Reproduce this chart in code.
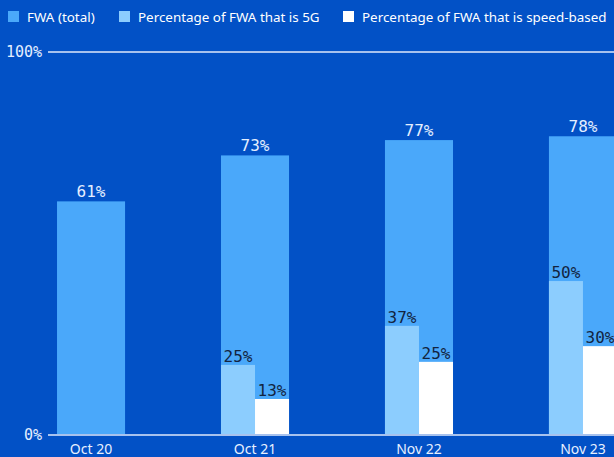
<!DOCTYPE html>
<html>
<head>
<meta charset="utf-8">
<script src="https://cdn.jsdelivr.net/npm/d3@7"></script>
<style>
  html, body { margin: 0; padding: 0; background: #0251c6; overflow: hidden; }
  svg { display: block; }
</style>
</head>
<body>
<div id="chart"></div>
<script>
// data
const categories = ["Oct 20", "Oct 21", "Nov 22", "Nov 23"];
const fwaTotal = [61, 73, 77, 78];
// share labels as printed
const fiveGLabels = [null, 25, 37, 50];
const speedLabels = [null, 13, 25, 30];
const fiveGHeights = [null, 18.3, 28.5, 40.2];
const speedHeights = [null, 9.4, 19.1, 23.2];
const yTicks = [0, 100];
const legendItems = [
  { label: "FWA (total)", color: "#4aa8fa", x: 8 },
  { label: "Percentage of FWA that is 5G", color: "#8ccdfe", x: 119 },
  { label: "Percentage of FWA that is speed-based", color: "#ffffff", x: 343 },
];

const width = 614;
const height = 457;
const margin = { top: 52, bottom: 22, left: 48 };

const monoFont = "'DejaVu Sans Mono', monospace";
const sansFont = "'Noto Sans', sans-serif";

const rows = categories.map((c, i) => ({
  cat: c,
  total: fwaTotal[i],
  fiveG: fiveGHeights[i],
  fiveGLabel: fiveGLabels[i],
  speed: speedHeights[i],
  speedLabel: speedLabels[i],
}));

const svg = d3
  .select("#chart")
  .append("svg")
  .attr("width", width)
  .attr("height", height);

const x = d3
  .scaleBand()
  .domain(categories)
  .range([margin.left, 626])
  .paddingInner(0.585)
  .paddingOuter(0.055);

const y = d3
  .scaleLinear()
  .domain([0, 100])
  .range([height - margin.bottom, margin.top]);

const sub = d3
  .scaleBand()
  .domain(["fiveG", "speed"])
  .range([0, x.bandwidth()]);

// legend
const legend = svg.append("g").attr("class", "legend");
legend
  .selectAll("rect")
  .data(legendItems)
  .join("rect")
  .attr("x", (d) => d.x)
  .attr("y", 11)
  .attr("width", 11)
  .attr("height", 11)
  .attr("fill", (d) => d.color);
legend
  .selectAll("text")
  .data(legendItems)
  .join("text")
  .attr("x", (d) => d.x + 19)
  .attr("y", 22)
  .attr("fill", "#ffffff")
  .style("font-family", sansFont)
  .style("font-size", "13.4px")
  .text((d) => d.label);

// total bars
svg
  .append("g")
  .selectAll("rect")
  .data(rows)
  .join("rect")
  .attr("x", (d) => x(d.cat))
  .attr("y", (d) => y(d.total))
  .attr("width", x.bandwidth())
  .attr("height", (d) => y(0) - y(d.total))
  .attr("fill", "#4aa8fa");

svg
  .append("g")
  .selectAll("text")
  .data(rows)
  .join("text")
  .attr("x", (d) => x(d.cat) + x.bandwidth() / 2)
  .attr("y", (d) => y(d.total) - 4)
  .attr("text-anchor", "middle")
  .attr("fill", "#e4eeff")
  .style("font-family", monoFont)
  .style("font-size", "16px")
  .text((d) => d.total + "%");

// 5G and speed-based bars
const subRows = [];
rows.forEach((d) => {
  if (d.fiveG != null) {
    subRows.push({ cat: d.cat, key: "fiveG", h: d.fiveG, label: d.fiveGLabel, color: "#8ccdfe" });
    subRows.push({ cat: d.cat, key: "speed", h: d.speed, label: d.speedLabel, color: "#ffffff" });
  }
});

svg
  .append("g")
  .selectAll("rect")
  .data(subRows)
  .join("rect")
  .attr("x", (d) => x(d.cat) + sub(d.key))
  .attr("y", (d) => y(d.h))
  .attr("width", sub.bandwidth())
  .attr("height", (d) => y(0) - y(d.h))
  .attr("fill", (d) => d.color);

svg
  .append("g")
  .selectAll("text")
  .data(subRows)
  .join("text")
  .attr("x", (d) => x(d.cat) + sub(d.key) + sub.bandwidth() / 2)
  .attr("y", (d) => y(d.h) - 3)
  .attr("text-anchor", "middle")
  .attr("fill", "#12243f")
  .style("font-family", monoFont)
  .style("font-size", "16px")
  .text((d) => d.label + "%");

// y gridlines + labels
const grid = svg.append("g").attr("class", "grid");
grid
  .selectAll("line")
  .data(yTicks)
  .join("line")
  .attr("x1", margin.left)
  .attr("x2", width)
  .attr("y1", (d) => y(d))
  .attr("y2", (d) => y(d))
  .attr("stroke", "#a7c2ee")
  .attr("stroke-width", 2);
grid
  .selectAll("text")
  .data(yTicks)
  .join("text")
  .attr("x", 42)
  .attr("y", (d) => y(d) + 5)
  .attr("text-anchor", "end")
  .attr("fill", "#e4eeff")
  .style("font-family", monoFont)
  .style("font-size", "15px")
  .text((d) => d + "%");

// x axis labels
svg
  .append("g")
  .selectAll("text")
  .data(categories)
  .join("text")
  .attr("x", (d) => x(d) + x.bandwidth() / 2)
  .attr("y", 454)
  .attr("text-anchor", "middle")
  .attr("fill", "#e8f0ff")
  .style("font-family", sansFont)
  .style("font-size", "14px")
  .text((d) => d);
</script>
</body>
</html>
